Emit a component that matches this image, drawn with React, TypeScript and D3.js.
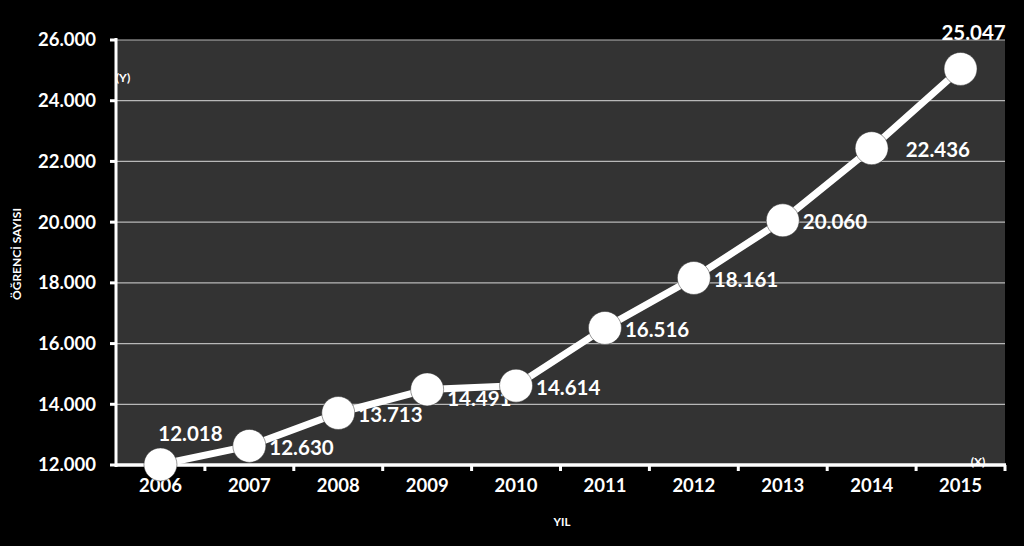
import React from "react";
import * as d3 from "d3";

const years = ["2006", "2007", "2008", "2009", "2010", "2011", "2012", "2013", "2014", "2015"];
const students = [12018, 12630, 13713, 14491, 14614, 16516, 18161, 20060, 22436, 25047];
const valueLabels = ["12.018", "12.630", "13.713", "14.491", "14.614", "16.516", "18.161", "20.060", "22.436", "25.047"];
const yTicks = [12000, 14000, 16000, 18000, 20000, 22000, 24000, 26000];
const yTickLabels = ["12.000", "14.000", "16.000", "18.000", "20.000", "22.000", "24.000", "26.000"];

const W = 1024, H = 546;
const left = 116, right = 1005, top = 40, bottom = 465;
const FONT = "Lato, 'Open Sans', sans-serif";

export default function App() {
  const x = d3.scaleBand<string>().domain(years).range([left, right]).padding(0);
  const y = d3.scaleLinear().domain([12000, 26000]).range([bottom, top]);
  const cx = (i: number) => (x(years[i]) as number) + x.bandwidth() / 2;
  const line = d3.line<number>().x((_, i) => cx(i)).y((d) => y(d));

  return (
    <svg width={W} height={H} style={{ position: "fixed", left: 0, top: 0, background: "#000" }}>
      <rect x={0} y={0} width={W} height={H} fill="#000" />
      <rect x={left} y={top} width={right - left} height={bottom - top} fill="#333333" />
      {yTicks.map((t, i) => (
        <g key={t}>
          {t !== 12000 && <line x1={left} x2={right} y1={y(t)} y2={y(t)} stroke="#b8b8b8" strokeWidth={1.2} />}
          <line x1={left - 6} x2={left} y1={y(t)} y2={y(t)} stroke="#fff" strokeWidth={3} />
          <text x={96} y={y(t)} dy="0.35em" textAnchor="end" fill="#fff" fontFamily={FONT} fontWeight={700} fontSize={18.5}>
            {yTickLabels[i]}
          </text>
        </g>
      ))}
      <line x1={left} x2={left} y1={top - 2} y2={bottom + 2} stroke="#fff" strokeWidth={3} />
      <line x1={left} x2={right + 1} y1={bottom} y2={bottom} stroke="#fff" strokeWidth={3.5} />
      {years.map((yr) => (
        <line key={"t" + yr} x1={(x(yr) as number) + x.bandwidth()} x2={(x(yr) as number) + x.bandwidth()} y1={bottom} y2={bottom + 6} stroke="#fff" strokeWidth={3} />
      ))}
      {years.map((yr, i) => (
        <text key={"x" + yr} x={cx(i)} y={492} textAnchor="middle" fill="#fff" fontFamily={FONT} fontWeight={700} fontSize={18.5}>
          {yr}
        </text>
      ))}
      <path d={line(students) as string} fill="none" stroke="#fff" strokeWidth={7} strokeLinejoin="round" />
      {students.map((v, i) => {
        const first = i === 0;
        const last = i === students.length - 1;
        let tx = cx(i) + 20;
        let ty = y(v) + 2;
        let anchor = "start";
        if (first) { tx = cx(i) + 30; ty = y(v) - 31; anchor = "middle"; }
        if (last) { tx = cx(i) + 13; ty = y(v) - 36; anchor = "middle"; }
        if (i === 8) tx = cx(i) + 34;
        if (i === 3) ty = y(v) + 9;
        return (
          <text key={"p" + i} x={tx} y={ty} dy="0.35em" textAnchor={anchor} fill="#fff" fontFamily={FONT} fontWeight={700} fontSize={20.5}>
            {valueLabels[i]}
          </text>
        );
      })}
      {students.map((v, i) => (
        <circle key={"c" + i} cx={cx(i)} cy={y(v)} r={16.5} fill="#fff" stroke="#333" strokeWidth={0.5} />
      ))}
      <text x={123} y={82} textAnchor="middle" fill="#fff" fontFamily={FONT} fontWeight={700} fontSize={12}>(Y)</text>
      <text x={978} y={466} textAnchor="middle" fill="#fff" fontFamily={FONT} fontWeight={700} fontSize={12}>(X)</text>
      <text x={562} y={526} textAnchor="middle" fill="#fff" fontFamily={FONT} fontWeight={700} fontSize={11.5}>YIL</text>
      <text transform={`translate(21,254) rotate(-90)`} textAnchor="middle" fill="#fff" fontFamily={FONT} fontWeight={700} fontSize={12}>
        ÖĞRENCİ SAYISI
      </text>
    </svg>
  );
}
